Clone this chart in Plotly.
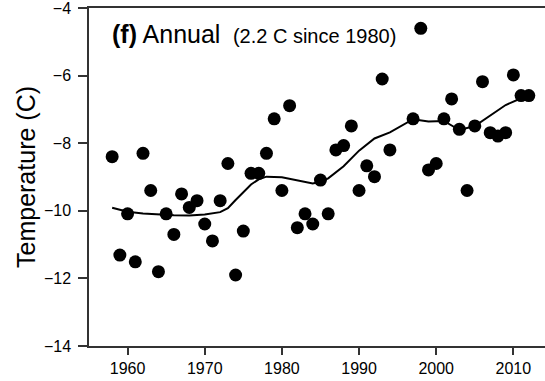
import plotly.graph_objects as go

# Annual temperature observations
years = [1958, 1959, 1960, 1961, 1962, 1963, 1964, 1965, 1966, 1967, 1968, 1969,
         1970, 1971, 1972, 1973, 1974, 1975, 1976, 1977, 1978, 1979, 1980, 1981,
         1982, 1983, 1984, 1985, 1986, 1987, 1988, 1989, 1990, 1991, 1992, 1993,
         1994, 1997, 1998, 1999, 2000, 2001, 2002, 2003, 2004, 2005, 2006, 2007,
         2008, 2009, 2010, 2011, 2012]
temps = [-8.40, -11.31, -10.09, -11.51, -8.30, -9.40, -11.80, -10.09, -10.70, -9.50,
         -9.90, -9.70, -10.39, -10.89, -9.70, -8.60, -11.90, -10.60, -8.89, -8.89,
         -8.30, -7.28, -9.40, -6.89, -10.50, -10.09, -10.39, -9.09, -10.09, -8.20,
         -8.07, -7.49, -9.40, -8.67, -8.99, -6.10, -8.20, -7.28, -4.60, -8.79,
         -8.60, -7.28, -6.69, -7.59, -9.40, -7.49, -6.18, -7.69, -7.79, -7.69,
         -5.98, -6.59, -6.59]

# Smoothed trend line
smooth_years = [1958, 1960, 1962, 1964, 1966, 1968, 1970, 1972, 1973, 1974, 1975,
                1976, 1977, 1978, 1980, 1982, 1984, 1985, 1986, 1988, 1990, 1992,
                1994, 1997, 1999, 2001, 2003, 2005, 2007, 2009, 2011, 2012]
smooth_temps = [-9.91, -10.03, -10.08, -10.11, -10.13, -10.14, -10.11, -10.04, -9.92,
                -9.68, -9.45, -9.22, -9.07, -8.99, -9.01, -9.11, -9.19, -9.14, -9.04,
                -8.68, -8.22, -7.86, -7.68, -7.29, -7.36, -7.34, -7.61, -7.49, -7.17,
                -6.87, -6.67, -6.59]

x_ticks = [1960, 1970, 1980, 1990, 2000, 2010]
y_ticks = [-14, -12, -10, -8, -6, -4]

FONT = "Arial, Liberation Sans, Helvetica, sans-serif"

fig = go.Figure()
fig.add_trace(go.Scatter(x=smooth_years, y=smooth_temps, mode="lines",
                         line=dict(color="black", width=2), showlegend=False,
                         hoverinfo="skip"))
fig.add_trace(go.Scatter(x=years, y=temps, mode="markers",
                         marker=dict(color="black", size=13), showlegend=False))

fig.update_layout(
    width=545, height=381,
    margin=dict(l=89, r=0, t=8, b=35),
    paper_bgcolor="white", plot_bgcolor="white",
    font=dict(family=FONT, color="black", size=16),
    xaxis=dict(range=[1955, 2014.1], tickvals=x_ticks, ticks="outside", ticklen=7,
               tickwidth=1.5, tickcolor="#333", showline=True, linecolor="#333",
               linewidth=1.5, mirror=True, showgrid=False, zeroline=False,
               tickfont=dict(size=16), ticklabeloverflow="allow"),
    yaxis=dict(range=[-14.0001, -3.9999], tickvals=y_ticks, ticks="outside", ticklen=9,
               tickwidth=1.5, tickcolor="#333", showline=True, linecolor="#333",
               linewidth=1.5, showgrid=False, zeroline=False,
               tickfont=dict(size=16), ticklabelstandoff=4, ticklabeloverflow="allow",
               title=dict(text="Temperature (C)", font=dict(size=25), standoff=1)),
    annotations=[dict(
        text="<b>(f)</b> Annual <span style='font-size:20px'>&nbsp;(2.2 C since 1980)</span>",
        xref="paper", yref="paper", x=0.047, y=0.923, xanchor="left", yanchor="middle",
        showarrow=False, font=dict(size=25, color="black"))],
)

fig.write_html("out.html")
